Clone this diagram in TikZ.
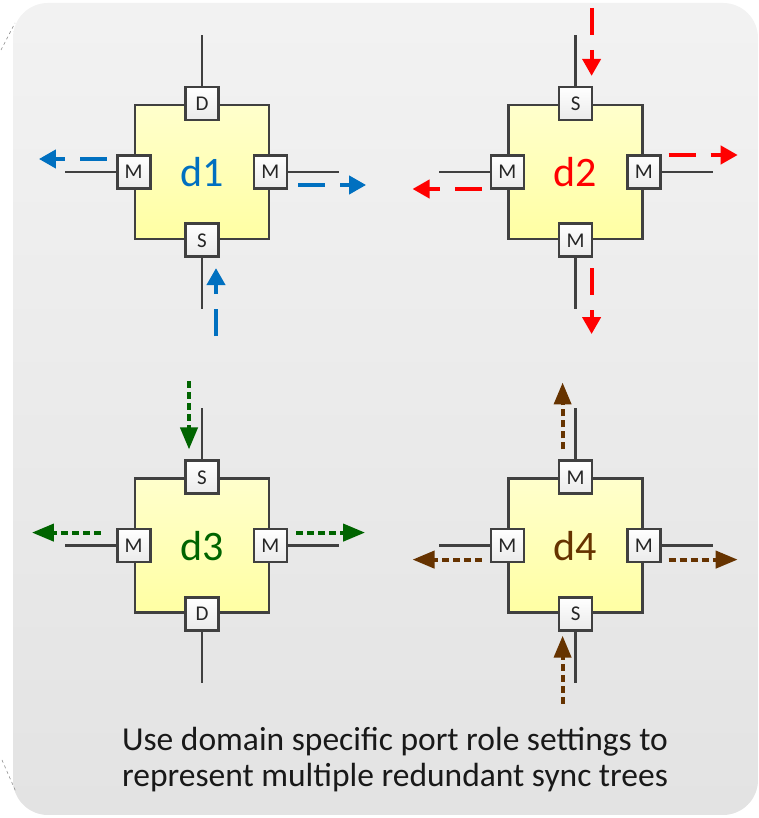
\documentclass[tikz,border=0pt]{standalone}
\usepackage{fontspec}
\setmainfont{Carlito}
\usepackage{tikz}
\usetikzlibrary{arrows.meta,positioning,calc}

\definecolor{tblue}{HTML}{0070C0}
\definecolor{tred}{HTML}{FF0000}
\definecolor{tgreen}{HTML}{006400}
\definecolor{tbrown}{HTML}{663300}
\definecolor{edgegray}{HTML}{404040}

\begin{document}
\begin{tikzpicture}[
  x=1pt, y=1pt,
  node distance=237pt and 237pt,
  dev/.style={draw=edgegray, line width=2.6pt, rectangle, minimum size=134pt, inner sep=0pt, top color=yellow!20, bottom color=yellow!36, font=\fontsize{42}{42}\selectfont},
  port/.style={draw=edgegray, line width=2.6pt, rectangle, minimum size=33pt, inner sep=0pt, top color=white, bottom color=black!8, text=black!85, font=\fontsize{21}{21}\selectfont},
  stub/.style={draw=edgegray, line width=2.6pt},
  tree/.style={line width=4pt, dash pattern=on 27pt off 15pt, -{Triangle[length=17pt,width=18pt]}},
  dotree/.style={line width=4pt, dash pattern=on 7pt off 4pt, -{Triangle[length=22pt,width=17pt]}}
]
\useasboundingbox (0,0) rectangle (759,818);
\shade[top color=black!5, bottom color=black!11, rounded corners=35pt] (13,3) rectangle (758,815);
\draw[black!45, dashed, line width=0.6pt] (1,768) -- (15,795);
\draw[black!45, dashed, line width=0.6pt] (2,58) -- (16,26);

% devices
\node[dev, text=tblue] (d1) at (202,646) {d1};
\node[dev, text=tred, right=of d1] (d2) {d2};
\node[dev, text=tgreen, below=of d1] (d3) {d3};
\node[dev, text=tbrown, below=of d2] (d4) {d4};

% ports
\node[port] (d1n) at (d1.north) {D};
\node[port] (d1w) at (d1.west) {M};
\node[port] (d1e) at (d1.east) {M};
\node[port] (d1s) at (d1.south) {S};
\node[port] (d2n) at (d2.north) {S};
\node[port] (d2w) at (d2.west) {M};
\node[port] (d2e) at (d2.east) {M};
\node[port] (d2s) at (d2.south) {M};
\node[port] (d3n) at (d3.north) {S};
\node[port] (d3w) at (d3.west) {M};
\node[port] (d3e) at (d3.east) {M};
\node[port] (d3s) at (d3.south) {D};
\node[port] (d4n) at (d4.north) {M};
\node[port] (d4w) at (d4.west) {M};
\node[port] (d4e) at (d4.east) {M};
\node[port] (d4s) at (d4.south) {S};

% link ends
\coordinate[above=51pt of d1n] (d1nt);
\coordinate[left=51pt of d1w] (d1wt);
\coordinate[right=51pt of d1e] (d1et);
\coordinate[below=51pt of d1s] (d1st);
\coordinate[above=51pt of d2n] (d2nt);
\coordinate[left=51pt of d2w] (d2wt);
\coordinate[right=51pt of d2e] (d2et);
\coordinate[below=51pt of d2s] (d2st);
\coordinate[above=51pt of d3n] (d3nt);
\coordinate[left=51pt of d3w] (d3wt);
\coordinate[right=51pt of d3e] (d3et);
\coordinate[below=51pt of d3s] (d3st);
\coordinate[above=51pt of d4n] (d4nt);
\coordinate[left=51pt of d4w] (d4wt);
\coordinate[right=51pt of d4e] (d4et);
\coordinate[below=51pt of d4s] (d4st);

\draw[stub] (d1n) -- (d1nt) (d1w) -- (d1wt) (d1e) -- (d1et) (d1s) -- (d1st);
\draw[stub] (d2n) -- (d2nt) (d2w) -- (d2wt) (d2e) -- (d2et) (d2s) -- (d2st);
\draw[stub] (d3n) -- (d3nt) (d3w) -- (d3wt) (d3e) -- (d3et) (d3s) -- (d3st);
\draw[stub] (d4n) -- (d4nt) (d4w) -- (d4wt) (d4e) -- (d4et) (d4s) -- (d4st);

% sync trees
\draw[tree, tblue] ($(d1s.south)+(14,-78)$) -- ++(0,68);
\draw[tree, tblue] ($(d1w.west)+(-9,13)$) -- ++(-68,0);
\draw[tree, tblue] ($(d1e.east)+(10,-13)$) -- ++(68,0);

\draw[tree, tred] ($(d2n.north)+(16,78)$) -- ++(0,-68);
\draw[tree, tred] ($(d2w.west)+(-8,-17)$) -- ++(-69,0);
\draw[tree, tred] ($(d2e.east)+(7,17)$) -- ++(69,0);
\draw[tree, tred] ($(d2s.south)+(16,-10)$) -- ++(0,-66);

\draw[dotree, tgreen] ($(d3n.north)+(-13,78)$) -- ++(0,-68);
\draw[dotree, tgreen] ($(d3w.west)+(-15,13)$) -- ++(-69,0);
\draw[dotree, tgreen] ($(d3e.east)+(8,13)$) -- ++(69,0);

\draw[dotree, tbrown] ($(d4n.north)+(-13,10)$) -- ++(0,67);
\draw[dotree, tbrown] ($(d4w.west)+(-8,-14)$) -- ++(-69,0);
\draw[dotree, tbrown] ($(d4e.east)+(7,-14)$) -- ++(69,0);
\draw[dotree, tbrown] ($(d4s.south)+(-13,-72)$) -- ++(0,68);

\node[font=\fontsize{33.5}{36}\selectfont, align=center, text=black!90] (note) at (395,58)
  {Use domain specific port role settings to\\represent multiple redundant sync trees};
\end{tikzpicture}
\end{document}
